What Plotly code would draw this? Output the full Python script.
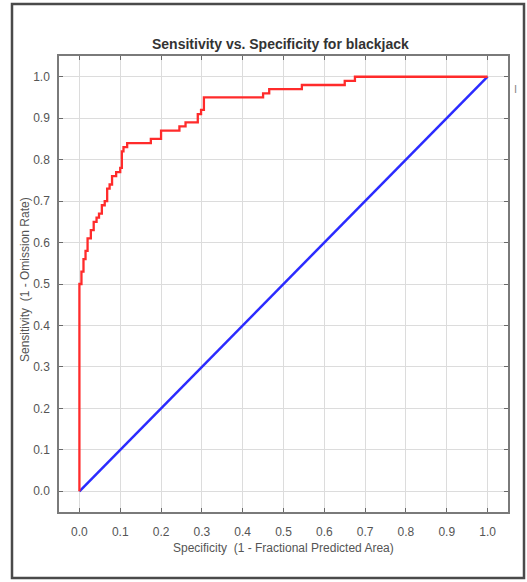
import plotly.graph_objects as go

# ROC curve (specificity = 1 - fractional predicted area, sensitivity)
roc_x = [0.0, 0.0, 0.005, 0.01, 0.015, 0.02, 0.028, 0.035, 0.042, 0.048, 0.055,
         0.062, 0.068, 0.074, 0.08, 0.09, 0.1, 0.104, 0.108, 0.117, 0.175,
         0.2, 0.245, 0.26, 0.29, 0.298, 0.305, 0.45, 0.465, 0.545, 0.65, 0.675, 1.0]
roc_y = [0.0, 0.5, 0.53, 0.56, 0.58, 0.61, 0.63, 0.65, 0.66, 0.67, 0.69,
         0.70, 0.73, 0.74, 0.76, 0.77, 0.78, 0.82, 0.83, 0.84, 0.85,
         0.87, 0.88, 0.89, 0.91, 0.92, 0.95, 0.96, 0.97, 0.98, 0.99, 1.0, 1.0]
random_x = [0.0, 1.0]
random_y = [0.0, 1.0]
tick_vals = [0.0, 0.1, 0.2, 0.3, 0.4, 0.5, 0.6, 0.7, 0.8, 0.9, 1.0]
tick_text = ["0.0", "0.1", "0.2", "0.3", "0.4", "0.5", "0.6", "0.7", "0.8", "0.9", "1.0"]

W, H = 527, 582
px_l, px_r, px_t, px_b = 59, 508, 56, 512

fig = go.Figure()
fig.add_trace(go.Scatter(x=random_x, y=random_y, mode="lines",
                         line=dict(color="#2b2bff", width=2.5), showlegend=False))
fig.add_trace(go.Scatter(x=roc_x, y=roc_y, mode="lines", line_shape="hv",
                         line=dict(color="#ff2b2b", width=2.3), showlegend=False))

axis_common = dict(
    tickvals=tick_vals, ticktext=tick_text, showgrid=True, gridcolor="#dcdcdc",
    gridwidth=1, zeroline=False, showline=True, linecolor="#7a7a7a", linewidth=1.5,
    mirror="ticks", ticks="inside", ticklen=4, tickcolor="#6a6a6a",
    tickfont=dict(family="Liberation Sans, Arial", size=12, color="#555555"),
)

fig.update_layout(
    width=W, height=H, margin=dict(l=0, r=0, t=0, b=0),
    paper_bgcolor="white", plot_bgcolor="white",
    xaxis=dict(range=[-0.05, 1.05], domain=[px_l / W, px_r / W],
               ticklabelstandoff=8, **axis_common),
    yaxis=dict(range=[-0.05, 1.05], domain=[1 - px_b / H, 1 - px_t / H],
               ticklabelstandoff=5, **axis_common),
    shapes=[dict(type="rect", xref="paper", yref="paper",
                 x0=12 / W, x1=524 / W, y0=1 - 578 / H, y1=1 - 4 / H,
                 line=dict(color="#4a4a4a", width=2.5), fillcolor="rgba(0,0,0,0)",
                 layer="below")],
    annotations=[
        dict(text="<b>Sensitivity vs. Specificity for blackjack</b>", xref="paper", yref="paper",
             x=280 / W, y=1 - 44 / H, showarrow=False, xanchor="center", yanchor="middle",
             font=dict(family="Liberation Sans, Arial", size=14, color="#333333")),
        dict(text="Specificity  (1 - Fractional Predicted Area)", xref="paper", yref="paper",
             x=283 / W, y=1 - 548 / H, showarrow=False, xanchor="center", yanchor="middle",
             font=dict(family="Liberation Sans, Arial", size=12, color="#555555")),
        dict(text="Sensitivity  (1 - Omission Rate)", xref="paper", yref="paper",
             x=25 / W, y=1 - 280 / H, showarrow=False, textangle=-90,
             xanchor="center", yanchor="middle",
             font=dict(family="Liberation Sans, Arial", size=12, color="#555555")),
        dict(text="I", xref="paper", yref="paper", x=515 / W, y=1 - 89 / H,
             showarrow=False, xanchor="center", yanchor="middle",
             font=dict(family="Liberation Sans, Arial", size=11, color="#888888")),
    ],
)

fig.write_html("out.html")
